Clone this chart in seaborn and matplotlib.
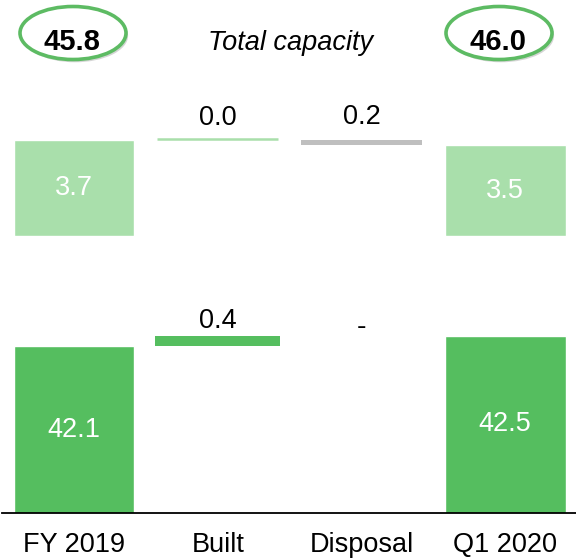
import matplotlib
matplotlib.use("Agg")
import matplotlib.pyplot as plt
import matplotlib.patheffects as pe
from matplotlib.patches import Ellipse
import pandas as pd
import seaborn as sns

# ---------------- data ----------------
categories = ["FY 2019", "Built", "Disposal", "Q1 2020"]
upper_start = 3.7
upper_changes = [0.0, -0.2]          # Built, Disposal
upper_end = 3.5
lower_start = 42.1
lower_changes = [0.4, 0.0]           # Built, Disposal
lower_end = 42.5
totals = [45.8, 46.0]
upper_labels = ["3.7", "0.0", "0.2", "3.5"]
lower_labels = ["42.1", "0.4", "-", "42.5"]
title_text = "Total capacity"

DARK = "#55BE5F"
LIGHT = "#A9DFAB"
GRAY = "#BFBFBF"
EDGE = "#5DBB63"

sns.set_theme(style="white")
plt.rcParams["font.family"] = ["Liberation Sans", "DejaVu Sans"]

W, H = 576, 558
fig = plt.figure(figsize=(W / 100, H / 100), dpi=100)


def fx(px):
    return px / W


def fh(px):
    return px / H


SCALE = 26.0  # pixels per unit
FS = 19.5
XLIM = (-0.501, 3.493)
BW = 0.84

# ---------------- lower panel ----------------
lo_bottom_px, lo_top_px = 513, 290
ax_lo = fig.add_axes([fx(2), 1 - fh(lo_bottom_px), fx(574), fh(lo_bottom_px - lo_top_px)])
L0 = 35.68
ax_lo.set_ylim(L0, L0 + (lo_bottom_px - lo_top_px) / SCALE)

df_lo = pd.DataFrame({"cat": categories, "val": [lower_start, 0.0, 0.0, lower_end]})
sns.barplot(data=df_lo, x="cat", y="val", hue="cat", order=categories,
            palette=[DARK] * 4, width=BW, errorbar=None, legend=False,
            dodge=False, ax=ax_lo, saturation=1)
running = lower_start
for i, ch in enumerate(lower_changes, start=1):
    if ch != 0:
        ax_lo.bar(i, ch, bottom=running, width=0.87, color=DARK, linewidth=0)
    running += ch
ax_lo.set_xlim(*XLIM)

# labels lower
ax_lo.text(0, (L0 + lower_start) / 2, lower_labels[0], ha="center", va="center",
           color="white", fontsize=FS)
ax_lo.text(3, (L0 + lower_end) / 2, lower_labels[3], ha="center", va="center",
           color="white", fontsize=FS)
ax_lo.annotate(lower_labels[1], xy=(1, lower_start + lower_changes[0]), xytext=(0, 5.5),
               textcoords="offset points", ha="center", va="baseline", fontsize=FS,
               color="black")
ax_lo.annotate(lower_labels[2], xy=(2, lower_start + lower_changes[0]), xytext=(0, 1),
               textcoords="offset points", ha="center", va="baseline", fontsize=FS + 1,
               color="black")

ax_lo.set_xlabel("")
ax_lo.set_ylabel("")
ax_lo.set_yticks([])
ax_lo.set_xticks(range(len(categories)))
ax_lo.set_xticklabels(categories, fontsize=FS, color="black")
ax_lo.tick_params(axis="x", length=0, pad=14)
for s in ["left", "right", "top"]:
    ax_lo.spines[s].set_visible(False)
ax_lo.spines["bottom"].set_color("black")
ax_lo.spines["bottom"].set_linewidth(1.3)

# ---------------- upper panel ----------------
up_bottom_px, up_top_px = 236, 90
ax_up = fig.add_axes([fx(2), 1 - fh(up_bottom_px), fx(574), fh(up_bottom_px - up_top_px)])
ax_up.set_ylim(0, (up_bottom_px - up_top_px) / SCALE)

df_up = pd.DataFrame({"cat": categories, "val": [upper_start, 0.0, 0.0, upper_end]})
sns.barplot(data=df_up, x="cat", y="val", hue="cat", order=categories,
            palette=[LIGHT] * 4, width=BW, errorbar=None, legend=False,
            dodge=False, ax=ax_up, saturation=1)
running = upper_start
change_colors = [LIGHT, GRAY]
for i, ch in enumerate(upper_changes, start=1):
    if ch == 0:
        ax_up.hlines(running + 0.05, i - 0.42, i + 0.42, color=change_colors[i - 1], lw=1.8)
    else:
        ax_up.bar(i, abs(ch), bottom=min(running, running + ch), width=0.84,
                  color=change_colors[i - 1], linewidth=0)
    running += ch
ax_up.set_xlim(*XLIM)

ax_up.text(0, upper_start / 2, upper_labels[0], ha="center", va="center",
           color="white", fontsize=FS)
ax_up.text(3, upper_end / 2, upper_labels[3], ha="center", va="center",
           color="white", fontsize=FS)
ax_up.annotate(upper_labels[1], xy=(1, upper_start), xytext=(0, 10.5),
               textcoords="offset points", ha="center", va="baseline", fontsize=FS,
               color="black")
ax_up.annotate(upper_labels[2], xy=(2, upper_start), xytext=(0, 11.5),
               textcoords="offset points", ha="center", va="baseline", fontsize=FS,
               color="black")
ax_up.set_xlabel("")
ax_up.set_ylabel("")
ax_up.set_xticks([])
ax_up.set_yticks([])
for s in ax_up.spines.values():
    s.set_visible(False)

# ---------------- header ----------------
ax_ov = fig.add_axes([0, 0, 1, 1], zorder=5)
ax_ov.set_xlim(0, W)
ax_ov.set_ylim(H, 0)
ax_ov.axis("off")
ax_ov.patch.set_alpha(0)

for cx, val in zip([73, 499], totals):
    e = Ellipse((cx, 33), 106, 53, facecolor="white", edgecolor=EDGE, lw=2.6,
                path_effects=[pe.SimplePatchShadow(offset=(1.5, -2), alpha=0.35,
                                                   shadow_rgbFace="#888888"),
                              pe.Normal()])
    ax_ov.add_patch(e)
    ax_ov.text(cx - 1, 49.5, f"{val:.1f}", ha="center", va="baseline",
               fontsize=21, fontweight="bold", color="black")

ax_ov.text(291, 49.5, title_text, ha="center", va="baseline", fontsize=FS,
           fontstyle="italic", color="black")

fig.savefig("out.png", dpi=100)
